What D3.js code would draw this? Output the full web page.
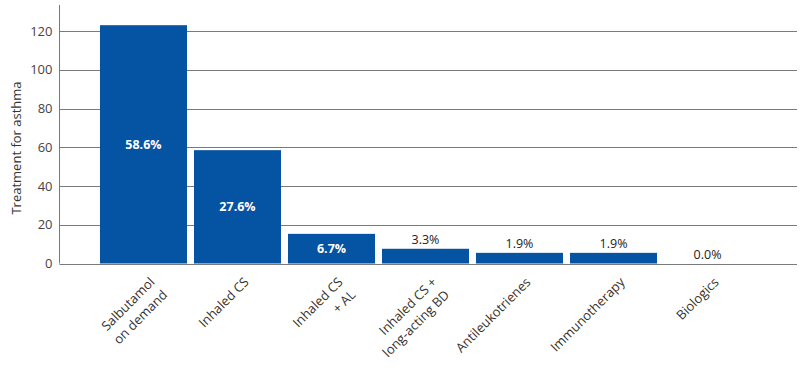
<!DOCTYPE html>
<html>
<head>
<meta charset="utf-8">
<script src="https://cdn.jsdelivr.net/npm/d3@7"></script>
<style>
  html, body { margin: 0; padding: 0; background: #fff; }
  svg { display: block; font-family: 'Open Sans', sans-serif; }
</style>
</head>
<body>
<script>
// chart data
const categories = [
  ['Salbutamol', 'on demand'],
  ['Inhaled CS'],
  ['Inhaled CS', '+ AL'],
  ['Inhaled CS +', 'long-acting BD'],
  ['Antileukotrienes'],
  ['Immunotherapy'],
  ['Biologics']
];
const values = [123, 58.5, 15.3, 7.6, 5.5, 5.5, 0];
const percentLabels = ['58.6%', '27.6%', '6.7%', '3.3%', '1.9%', '1.9%', '0.0%'];
const yTicks = [0, 20, 40, 60, 80, 100, 120];

const WIDTH = 808;
const HEIGHT = 375;
const AXIS_X = 59.5;
const GRID_RIGHT = 797;
const BAR_COLOR = '#0553a3';

const svg = d3.select('body')
  .append('svg')
    .attr('width', WIDTH)
    .attr('height', HEIGHT);

const ids = categories.map((c, i) => i);

const xScale = d3.scaleBand()
    .domain(ids)
    .range([96.5, 754.5])
    .paddingInner(0.0745)
    .paddingOuter(0.037);

const yScale = d3.scaleLinear()
    .domain([0, 120])
    .range([263.5, 31]);

// gridlines
svg.append('g')
  .selectAll('line')
  .data(yTicks)
  .enter()
  .append('line')
    .attr('x1', AXIS_X)
    .attr('x2', GRID_RIGHT)
    .attr('y1', d => Math.round(yScale(d)) + 0.5)
    .attr('y2', d => Math.round(yScale(d)) + 0.5)
    .attr('stroke', '#7a7a7a')
    .attr('stroke-width', 1);

// y axis (labels only, line drawn by hand)
const yAxis = d3.axisLeft(yScale)
    .tickValues(yTicks)
    .tickSize(0)
    .tickPadding(7);

svg.append('g')
    .attr('transform', `translate(${AXIS_X}, 0)`)
    .call(yAxis)
    .call(g => g.select('.domain').remove())
    .call(g => g.selectAll('text')
      .attr('font-family', "'Open Sans', sans-serif")
      .attr('font-size', 13)
      .attr('fill', '#444'));

svg.append('line')
    .attr('x1', AXIS_X)
    .attr('x2', AXIS_X)
    .attr('y1', 5)
    .attr('y2', yScale(0))
    .attr('stroke', '#7a7a7a');

// bars
svg.append('g')
  .selectAll('rect')
  .data(values)
  .enter()
  .append('rect')
    .attr('x', (d, i) => xScale(i))
    .attr('y', d => yScale(d))
    .attr('width', xScale.bandwidth())
    .attr('height', d => yScale(0) - yScale(d))
    .attr('fill', BAR_COLOR);

// value labels
svg.append('g')
  .selectAll('text')
  .data(values)
  .enter()
  .append('text')
    .attr('x', (d, i) => xScale(i) + xScale.bandwidth() / 2)
    .attr('y', d => d > 10 ? (yScale(d) + yScale(0)) / 2 : yScale(d) - 5)
    .attr('dy', d => d > 10 ? '0.35em' : 0)
    .attr('text-anchor', 'middle')
    .attr('font-size', 12.5)
    .attr('font-weight', d => d > 10 ? 'bold' : 'normal')
    .attr('fill', d => d > 10 ? '#fff' : '#222')
    .text((d, i) => percentLabels[i]);

// rotated category labels
const labelGroups = svg.append('g')
  .selectAll('g')
  .data(categories)
  .enter()
  .append('g')
    .attr('transform', (d, i) => {
      const cx = xScale(i) + xScale.bandwidth() / 2;
      return `translate(${cx + 12}, 283) rotate(-45)`;
    });

labelGroups.selectAll('text')
  .data(d => d)
  .enter()
  .append('text')
    .attr('x', 0)
    .attr('y', (d, j) => j * 18)
    .attr('text-anchor', 'end')
    .attr('font-size', 13)
    .attr('fill', '#333')
    .text(d => d);

// y axis title
svg.append('text')
    .attr('transform', 'translate(21, 148) rotate(-90)')
    .attr('text-anchor', 'middle')
    .attr('font-size', 13)
    .attr('fill', '#333')
    .text('Treatment for asthma');
</script>
</body>
</html>
